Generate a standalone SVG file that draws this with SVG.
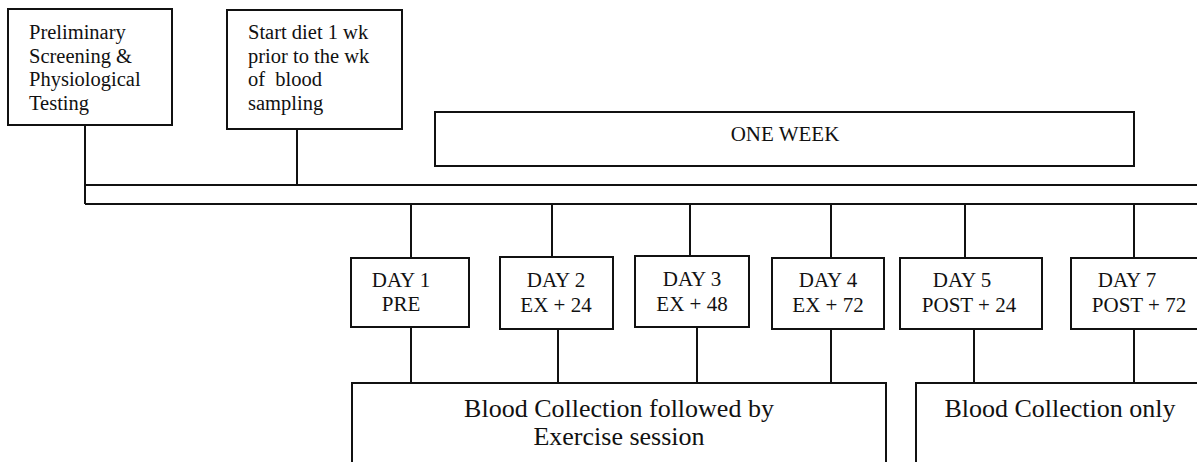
<svg xmlns="http://www.w3.org/2000/svg" width="1197" height="462" viewBox="0 0 1197 462">
<style>
.box{fill:#fff;stroke:#111;stroke-width:2}
.ln{stroke:#111;stroke-width:2;fill:none}
.t{font-family:'Liberation Serif','Times New Roman','DejaVu Serif',serif;fill:#111}
.s{font-size:20.5px;white-space:pre}
.d{font-size:21px;text-anchor:middle}
.b{font-size:26px;text-anchor:middle}
</style>
<rect width="1197" height="462" fill="#fff"/>
<g id="connectors">
<line class="ln" x1="85" y1="125" x2="85" y2="204"/>
<line class="ln" x1="297" y1="129" x2="297" y2="185"/>
<line class="ln" x1="85" y1="185" x2="1197" y2="185"/>
<line class="ln" x1="85" y1="204" x2="1197" y2="204"/>
<line class="ln" x1="411" y1="204" x2="411" y2="258"/>
<line class="ln" x1="552" y1="204" x2="552" y2="257"/>
<line class="ln" x1="690" y1="204" x2="690" y2="256"/>
<line class="ln" x1="831" y1="204" x2="831" y2="258"/>
<line class="ln" x1="965" y1="204" x2="965" y2="258"/>
<line class="ln" x1="1134" y1="204" x2="1134" y2="258"/>
<line class="ln" x1="411" y1="327" x2="411" y2="383"/>
<line class="ln" x1="558" y1="329" x2="558" y2="383"/>
<line class="ln" x1="697" y1="327" x2="697" y2="383"/>
<line class="ln" x1="831" y1="329" x2="831" y2="383"/>
<line class="ln" x1="974" y1="329" x2="974" y2="383"/>
<line class="ln" x1="1134" y1="329" x2="1134" y2="383"/>
</g>
<g id="prelim">
<rect class="box" x="8" y="9" width="164" height="116"/>
<text class="t s" x="29" y="39" font-family="Liberation Serif, serif">Preliminary</text>
<text class="t s" x="29" y="63" font-family="Liberation Serif, serif">Screening &amp;</text>
<text class="t s" x="29" y="86" font-family="Liberation Serif, serif">Physiological</text>
<text class="t s" x="29" y="110" font-family="Liberation Serif, serif">Testing</text>
</g>
<g id="diet">
<rect class="box" x="227" y="10" width="175" height="119"/>
<text class="t s" x="248" y="39" font-family="Liberation Serif, serif">Start diet 1 wk</text>
<text class="t s" x="248" y="63" font-family="Liberation Serif, serif">prior to the wk</text>
<text class="t s" x="248" y="86" font-family="Liberation Serif, serif">of  blood</text>
<text class="t s" x="248" y="110" font-family="Liberation Serif, serif">sampling</text>
</g>
<g id="oneweek">
<rect class="box" x="435" y="112" width="699" height="54"/>
<text class="t d" x="785" y="141" font-family="Liberation Serif, serif">ONE WEEK</text>
</g>
<g id="day1">
<rect class="box" x="351" y="258" width="118" height="69"/>
<text class="t d" x="401" y="287" font-family="Liberation Serif, serif">DAY 1</text>
<text class="t d" x="401" y="311" font-family="Liberation Serif, serif">PRE</text>
</g>
<g id="day2">
<rect class="box" x="500" y="257" width="113" height="72"/>
<text class="t d" x="556" y="287" font-family="Liberation Serif, serif">DAY 2</text>
<text class="t d" x="556" y="312" font-family="Liberation Serif, serif">EX + 24</text>
</g>
<g id="day3">
<rect class="box" x="635" y="256" width="114" height="71"/>
<text class="t d" x="692" y="286" font-family="Liberation Serif, serif">DAY 3</text>
<text class="t d" x="692" y="311" font-family="Liberation Serif, serif">EX + 48</text>
</g>
<g id="day4">
<rect class="box" x="772" y="258" width="112" height="71"/>
<text class="t d" x="828" y="287" font-family="Liberation Serif, serif">DAY 4</text>
<text class="t d" x="828" y="312" font-family="Liberation Serif, serif">EX + 72</text>
</g>
<g id="day5">
<rect class="box" x="900" y="258" width="142" height="71"/>
<text class="t d" x="962" y="287" font-family="Liberation Serif, serif">DAY 5</text>
<text class="t d" x="969" y="312" font-family="Liberation Serif, serif">POST + 24</text>
</g>
<g id="day7">
<rect class="box" x="1071" y="258" width="130" height="71"/>
<text class="t d" x="1127" y="287" font-family="Liberation Serif, serif">DAY 7</text>
<text class="t d" x="1139" y="312" font-family="Liberation Serif, serif">POST + 72</text>
</g>
<g id="exercise">
<rect class="box" x="352" y="383" width="534" height="90"/>
<text class="t b" x="619" y="417" font-family="Liberation Serif, serif">Blood Collection followed by</text>
<text class="t b" x="619" y="445" font-family="Liberation Serif, serif">Exercise session</text>
</g>
<g id="bloodonly">
<rect class="box" x="916" y="383" width="290" height="90"/>
<text class="t b" x="1060" y="417" font-family="Liberation Serif, serif">Blood Collection only</text>
</g>
</svg>
